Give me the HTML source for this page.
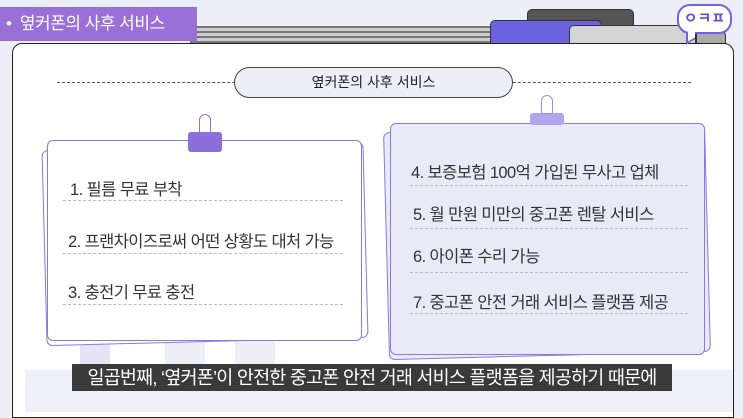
<!DOCTYPE html>
<html><head><meta charset="utf-8"><style>
*{margin:0;padding:0;box-sizing:border-box}
body{width:743px;height:412px;overflow:hidden;background:#eceef8;position:relative;font-family:"Liberation Sans","Noto Sans CJK KR",sans-serif}
.a{position:absolute}
.item{position:absolute;font-size:16.5px;color:#333;letter-spacing:-0.6px;line-height:20px}
.line{position:absolute;border-top:1.5px dashed #bbb;height:0}
</style></head><body>
<!-- tabs -->
<div class="a" style="left:527px;top:9px;width:107px;height:30px;background:#555;border:1px solid #333;border-radius:5px"></div>
<div class="a" style="left:490px;top:20px;width:112px;height:30px;background:#6b62e0;border:1px solid #333;border-radius:5px"></div>
<div class="a" style="left:569px;top:25px;width:127px;height:30px;background:#d4d4d6;border:1px solid #333;border-radius:5px"></div>
<!-- stripes -->
<div class="a" style="left:190px;top:26px;width:300px;height:18px;background:repeating-linear-gradient(#777 0 2px,#ccc 2px 5px)"></div>
<div class="a" style="left:696px;top:30px;width:30px;height:14px;background:#aaa;border:1px solid #333;border-radius:0 6px 0 0"></div>
<!-- notebook -->
<div class="a" style="left:12px;top:43px;width:722px;height:375px;background:#fff;border:1.5px solid #222;border-radius:10px 10px 0 0"></div>
<!-- faint city -->
<div class="a" style="left:80px;top:337px;width:30px;height:30px;background:#e3e4f6"></div>
<div class="a" style="left:165px;top:333px;width:40px;height:34px;background:#eceef8"></div>
<div class="a" style="left:235px;top:330px;width:40px;height:37px;background:#eceef8"></div>
<div class="a" style="left:25px;top:370px;width:708px;height:42px;background:#eef0f9"></div>
<!-- label -->
<div class="a" style="left:0;top:7px;width:197px;height:34px;background:#9a6fd8;color:#fff;font-size:17px;line-height:34px;padding-left:6px;letter-spacing:-0.5px">•&nbsp; 옆커폰의 사후 서비스</div>
<!-- logo -->
<div class="a" style="left:677px;top:4px;width:55px;height:30px;background:#fff;border:2.5px solid #7b5ee0;border-radius:13px;color:#6a4fd6;font-weight:bold;font-size:15px;text-align:center;line-height:25px">ㅇㅋㅍ</div>
<div class="a" style="left:686px;top:31px;width:9px;height:11px;background:#fff;border-left:2.5px solid #7b5ee0;border-bottom:2.5px solid #7b5ee0;transform:skewY(-30deg)"></div>
<!-- header -->
<div class="line" style="left:57px;top:82px;width:634px;border-top:1.5px dashed #555"></div>
<div class="a" style="left:234px;top:67px;width:279px;height:31px;background:#eceef8;border:1.5px solid #444;border-radius:16px;text-align:center;line-height:28px;font-size:14px;color:#222">옆커폰의 사후 서비스</div>
<!-- left card -->
<div class="a" style="left:44px;top:146px;width:322px;height:196px;background:#fff;border:1.5px solid #8a7ae0;border-radius:6px;transform:rotate(-1.5deg)"></div>
<div class="a" style="left:47px;top:140px;width:315px;height:201px;background:#fff;border:1.5px solid #8a7ae0;border-radius:6px"></div>
<div class="a" style="left:188px;top:132px;width:34px;height:20px;background:#8d6fdc;border-radius:3px"></div>
<div class="a" style="left:199px;top:114px;width:12px;height:19px;border:1.5px solid #8d6fdc;border-radius:6px 6px 0 0"></div>
<div class="item" style="left:70px;top:180px">1. 필름 무료 부착</div>
<div class="line" style="left:63px;top:200px;width:280px"></div>
<div class="item" style="left:68px;top:232px">2. 프랜차이즈로써 어떤 상황도 대처 가능</div>
<div class="line" style="left:63px;top:253px;width:280px"></div>
<div class="item" style="left:68px;top:283px">3. 충전기 무료 충전</div>
<div class="line" style="left:63px;top:304px;width:280px"></div>
<!-- right card -->
<div class="a" style="left:386px;top:128px;width:322px;height:228px;background:#e9eaf7;border:1.5px solid #8a7ae0;border-radius:6px;transform:rotate(-1.5deg)"></div>
<div class="a" style="left:390px;top:123px;width:315px;height:232px;background:#e9eaf7;border:1.5px solid #8a7ae0;border-radius:6px"></div>
<div class="a" style="left:530px;top:113px;width:34px;height:12px;background:#b3a4ee;border-radius:3px"></div>
<div class="a" style="left:541px;top:95px;width:12px;height:19px;border:1.5px solid #9d8ae6;border-radius:6px 6px 0 0"></div>
<div class="item" style="left:411px;top:163px">4. 보증보험 100억 가입된 무사고 업체</div>
<div class="line" style="left:410px;top:185px;width:278px"></div>
<div class="item" style="left:413px;top:205px">5. 월 만원 미만의 중고폰 렌탈 서비스</div>
<div class="line" style="left:410px;top:228px;width:278px"></div>
<div class="item" style="left:413px;top:247px">6. 아이폰 수리 가능</div>
<div class="line" style="left:410px;top:272px;width:278px"></div>
<div class="item" style="left:413px;top:293px">7. 중고폰 안전 거래 서비스 플랫폼 제공</div>
<div class="line" style="left:410px;top:313px;width:278px"></div>
<!-- subtitle -->
<div class="a" style="left:72px;top:364px;width:600px;height:27px;background:#3a3a3a;color:#fff;font-size:18.5px;line-height:27px;text-align:center;letter-spacing:-0.8px;white-space:nowrap">일곱번째, ‘옆커폰’이 안전한 중고폰 안전 거래 서비스 플랫폼을 제공하기 때문에</div>
</body></html>
